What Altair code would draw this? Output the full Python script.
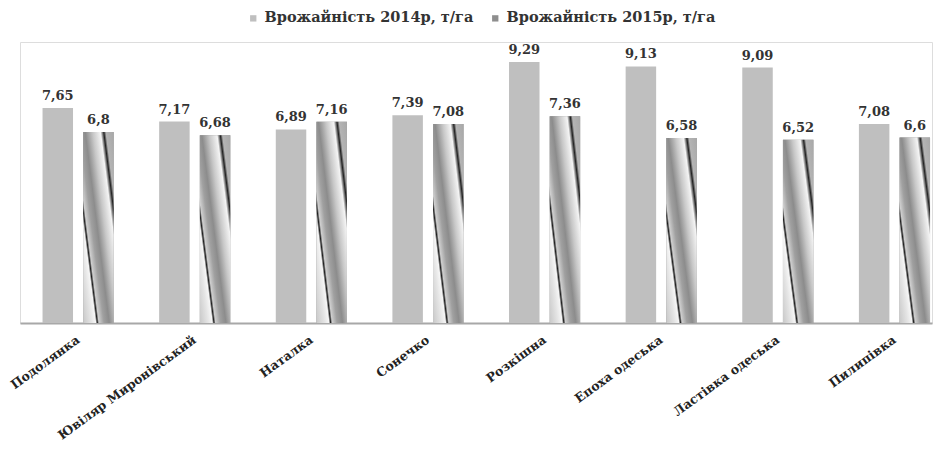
import altair as alt
import pandas as pd

# Varieties and yields (t/ha) for two seasons
varieties = ["Подолянка", "Ювіляр Миронівський", "Наталка", "Сонечко",
             "Розкішна", "Епоха одеська", "Ластівка одеська", "Пилипівка"]
yield_2014 = [7.65, 7.17, 6.89, 7.39, 9.29, 9.13, 9.09, 7.08]
yield_2015 = [6.8, 6.68, 7.16, 7.08, 7.36, 6.58, 6.52, 6.6]
series_names = ["Врожайність 2014р, т/га", "Врожайність 2015р, т/га"]

rows = []
for name, a, b in zip(varieties, yield_2014, yield_2015):
    rows.append({"variety": name, "series": series_names[0], "value": a})
    rows.append({"variety": name, "series": series_names[1], "value": b})
df = pd.DataFrame(rows)
df["label"] = df["value"].map(lambda v: f"{v:g}".replace(".", ","))

SERIF = "DejaVu Serif"

# Striped texture for the second season, as a slanted linear gradient
texture = {
    "gradient": "linear",
    "x1": 0, "y1": 1, "x2": 1.1, "y2": 0.13,
    "stops": [
        {"offset": 0.00, "color": "#c8c8c8"},
        {"offset": 0.15, "color": "#e4e4e4"},
        {"offset": 0.23, "color": "#f6f6f6"},
        {"offset": 0.26, "color": "#1e1e1e"},
        {"offset": 0.29, "color": "#cfcfcf"},
        {"offset": 0.38, "color": "#a0a0a0"},
        {"offset": 0.48, "color": "#8c8c8c"},
        {"offset": 0.62, "color": "#c8c8c8"},
        {"offset": 0.76, "color": "#f4f4f4"},
        {"offset": 0.82, "color": "#222222"},
        {"offset": 0.86, "color": "#b4b4b4"},
        {"offset": 1.00, "color": "#a8a8a8"},
    ],
}

x_enc = alt.X(
    "variety:N", sort=varieties, title=None,
    scale=alt.Scale(paddingInner=0.39, paddingOuter=0.105, align=0.92),
    axis=alt.Axis(labelAngle=-36, labelAlign="right", labelBaseline="middle",
                  labelPadding=15, labelFont=SERIF, labelFontWeight="bold",
                  labelFontSize=12.5, labelColor="#222222", ticks=False,
                  domainColor="#a8a8a8", domainWidth=2, labelLimit=0),
)
xoff_enc = alt.XOffset("series:N", sort=series_names,
                       scale=alt.Scale(paddingInner=0.25, paddingOuter=0))
y_enc = alt.Y("value:Q", scale=alt.Scale(domain=[0, 10]), axis=None)

base = alt.Chart(df)

bars = base.mark_bar().encode(
    x=x_enc, xOffset=xoff_enc, y=y_enc,
    color=alt.Color(
        "series:N", sort=series_names,
        scale=alt.Scale(domain=series_names, range=["#bfbfbf", "#8e8e8e"]),
        legend=alt.Legend(
            title=None, orient="none", direction="horizontal",
            legendX=226, legendY=-31, symbolType="square", symbolSize=40,
            symbolStrokeWidth=0, labelFont=SERIF, labelFontWeight="bold",
            labelFontSize=14.5, labelColor="#333333", columnPadding=14,
            labelOffset=4, labelLimit=0,
        ),
    ),
)

striped = base.transform_filter(
    alt.datum.series == series_names[1]
).mark_bar(fill=texture).encode(x=x_enc, xOffset=xoff_enc, y=y_enc)

labels = base.mark_text(
    baseline="bottom", dy=-5, font=SERIF, fontWeight="bold", fontSize=13,
    color="#333333",
).encode(x=x_enc, xOffset=xoff_enc, y=y_enc, text="label:N")

chart = alt.layer(bars, striped, labels).properties(
    width=912, height=281,
    autosize=alt.AutoSizeParams(type="none"),
    padding={"left": 20, "top": 42, "right": 7, "bottom": 129},
).configure_view(stroke=None).configure(background="white")

chart.save("out.html", embed_options={"renderer": "svg", "actions": False})
